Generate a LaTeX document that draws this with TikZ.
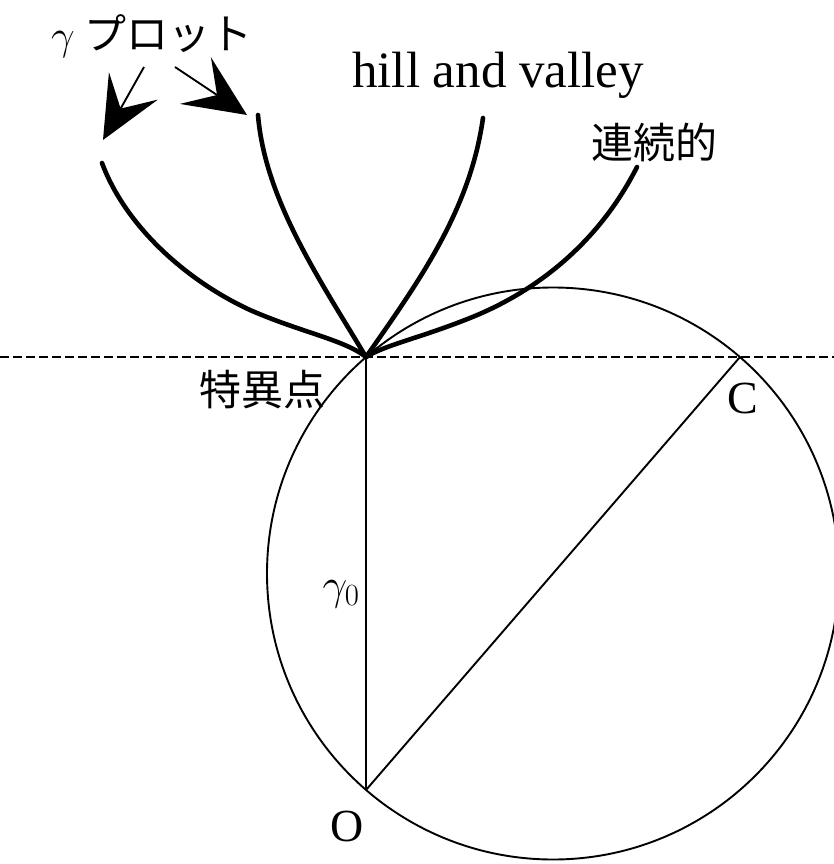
\documentclass[tikz,border=0pt]{standalone}
\usepackage{fix-cm}
\usepackage{fontspec}
\setmainfont{Liberation Serif}
\newfontfamily\jpfont{Noto Sans CJK JP}
\usetikzlibrary{arrows.meta}

\begin{document}
\begin{tikzpicture}[x=1pt, y=-1pt,
  thinline/.style={line width=1.9pt},
  curveline/.style={line width=4.6pt, line cap=round, line join=round},
  pointer/.style={line width=1.9pt, -{Stealth[length=62pt, width=56pt, inset=26pt]}},
  jplabel/.style={font=\fontsize{42}{48}\selectfont\jpfont, inner sep=0pt},
  latinlabel/.style={font=\fontsize{46}{52}\selectfont, inner sep=0pt}]
\clip (0,0) rectangle (834,864);
\fill[white] (0,0) rectangle (834,864);

% points of the construction
\coordinate (P) at (366,357);
\coordinate (O) at (366,790);
\coordinate (C) at (740,357);
\coordinate (M) at (553,573.5);

% circle, diameter OC, and the tangent level through P
\draw[thinline] (M) circle [radius=286pt];
\draw[thinline, dash pattern=on 9pt off 4pt] (0,357) -- (834,357);
\draw[thinline] (P) -- (O);
\draw[thinline] (O) -- (C);

% gamma plots meeting in the singular point
\draw[curveline] (102,163) .. controls (125,225) and (185,280) .. (250,310) .. controls (300,332) and (345,340) .. (P);
\draw[curveline] (258,115) .. controls (265,200) and (320,280) .. (P);
\draw[curveline] (483,118) .. controls (470,210) and (420,280) .. (P);
\draw[curveline] (637,167) .. controls (600,240) and (540,290) .. (470,318) .. controls (420,338) and (385,345) .. (P);

% labels
\node[jplabel] (gplot) at (152,36) {$\gamma$\hspace{10pt}プロット};
\node[latinlabel, font=\fontsize{51}{56}\selectfont, anchor=base west] (hv) at (352,88) {hill and valley};
\node[jplabel] (cont) at (654,142) {連続的};
\node[jplabel] (sing) at (262,390) {特異点};
\node[latinlabel] (clab) at (743,398) {C};
\node[latinlabel] (olab) at (347,826) {O};
\node[latinlabel, font=\fontsize{44}{48}\selectfont] (rlab) at (341,594) {$\gamma_0$};

% arrows from the gamma plot label
\coordinate (t1) at (144,67);
\coordinate (t2) at (175,67);
\coordinate (h1) at (103,140);
\coordinate (h2) at (247,115);
\draw[pointer] (t1) -- (h1);
\draw[pointer] (t2) -- (h2);
\end{tikzpicture}
\end{document}
